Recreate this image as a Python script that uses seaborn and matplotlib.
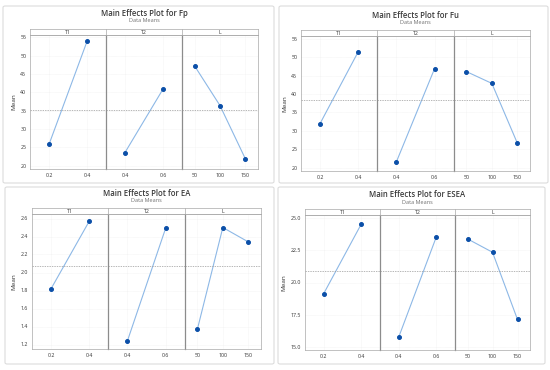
import pandas as pd
import matplotlib.pyplot as plt
from matplotlib.patches import FancyBboxPatch
import seaborn as sns

# factor levels
t1_levels = ["0.2", "0.4"]
t2_levels = ["0.4", "0.6"]
l_levels = ["50", "100", "150"]
factor_names = ["T1", "T2", "L"]

# level means
fp_t1 = [25.8, 53.9]
fp_t2 = [23.6, 40.9]
fp_l = [47.2, 36.4, 21.9]
fp_mean = 35.3

fu_t1 = [32.0, 51.5]
fu_t2 = [21.6, 46.9]
fu_l = [46.1, 42.9, 26.7]
fu_mean = 38.5

ea_t1 = [1.82, 2.57]
ea_t2 = [1.24, 2.49]
ea_l = [1.37, 2.50, 2.34]
ea_mean = 2.07

esea_t1 = [19.15, 24.5]
esea_t2 = [15.8, 23.5]
esea_l = [23.36, 22.33, 17.15]
esea_mean = 20.92

W, H = 550, 370
sns.set_theme(style="white")
plt.rcParams["font.family"] = ["Open Sans", "DejaVu Sans"]

fig = plt.figure(figsize=(W / 100, H / 100), dpi=100)

LINE = "#8db8e6"
DOT = "#0b4fa8"
FRAME = "#a8a8a8"


def fx(px):
    return px / W


def fy(py):
    return 1 - py / H


def draw_panel(name, t1, t2, lv, mean, ylim, yticks, fmt, box):
    bx0, by0, bx1, by1, left, right, s_top, s_bot, bottom, ty = box
    border = FancyBboxPatch((fx(bx0), fy(by1)), fx(bx1 - bx0), (by1 - by0) / H,
                            boxstyle="round,pad=0,rounding_size=0.004",
                            transform=fig.transFigure, fill=False,
                            edgecolor="#dcdcdc", linewidth=0.8)
    fig.patches.append(border)
    cx = fx((left + right) / 2)
    fig.text(cx, fy(ty), f"Main Effects Plot for {name}", ha="center", va="center",
             fontsize=5.6, fontweight="semibold", color="#3a3a3a")
    fig.text(cx, fy(ty + 7), "Data Means", ha="center", va="center",
             fontsize=4.0, color="#707070")

    width = (right - left) / 3
    groups = [(t1_levels, t1), (t2_levels, t2), (l_levels, lv)]
    for i, (levels, vals) in enumerate(groups):
        x0 = left + i * width
        ax = fig.add_axes([fx(x0), fy(bottom), fx(width), (bottom - s_bot) / H])
        df = pd.DataFrame({"level": levels, "mean": vals})
        sns.lineplot(data=df, x="level", y="mean", ax=ax, color=LINE, linewidth=0.8,
                     marker="o", markersize=2.8, markerfacecolor=DOT,
                     markeredgecolor=DOT, sort=False)
        ax.axhline(mean, color="#9a9a9a", linestyle=(0, (2, 1.5)), linewidth=0.5)
        ax.set_xlim(-0.5, len(levels) - 0.5)
        ax.set_ylim(*ylim)
        ax.set_yticks(yticks)
        ax.grid(True, color="#ececec", linewidth=0.4, linestyle=(0, (1, 1)))
        ax.set_xlabel("")
        ax.set_ylabel("")
        ax.tick_params(axis="both", labelsize=3.8, colors="#333333", length=1.2,
                       width=0.4, pad=1.5)
        if i == 0:
            ax.set_yticklabels([fmt.format(v) for v in yticks])
            ax.set_ylabel("Mean", fontsize=4.6, color="#333333", labelpad=3)
        else:
            ax.tick_params(axis="y", left=False, labelleft=False)
        for sp in ax.spines.values():
            sp.set_color(FRAME)
            sp.set_linewidth(0.5)
        if i > 0:
            ax.spines["left"].set_color("#8c8c8c")
            ax.spines["left"].set_linewidth(0.9)

        sax = fig.add_axes([fx(x0), fy(s_bot), fx(width), (s_bot - s_top) / H])
        sax.set_xticks([])
        sax.set_yticks([])
        sax.set_facecolor("white")
        for sp in sax.spines.values():
            sp.set_color(FRAME)
            sp.set_linewidth(0.5)
        sax.text(0.5, 0.45, factor_names[i], ha="center", va="center",
                 fontsize=3.7, color="#333333", transform=sax.transAxes)


# pixel boxes: border x0,y0,x1,y1, axes left/right, strip top/bottom, axes bottom, title y
draw_panel("Fp", fp_t1, fp_t2, fp_l, fp_mean, (19.1, 55.8), [20, 25, 30, 35, 40, 45, 50, 55],
           "{:.0f}", (3, 6, 274, 183, 30, 258, 29, 34.5, 169, 14))
draw_panel("Fu", fu_t1, fu_t2, fu_l, fu_mean, (19.1, 55.9), [20, 25, 30, 35, 40, 45, 50, 55],
           "{:.0f}", (279, 6, 548, 183, 301, 530, 30, 35.5, 171, 15))
draw_panel("EA", ea_t1, ea_t2, ea_l, ea_mean, (1.15, 2.65), [1.2, 1.4, 1.6, 1.8, 2.0, 2.2, 2.4, 2.6],
           "{:.1f}", (5, 187, 274, 364, 32, 261, 208, 214, 349, 193))
draw_panel("ESEA", esea_t1, esea_t2, esea_l, esea_mean, (14.8, 25.2), [15.0, 17.5, 20.0, 22.5, 25.0],
           "{:.1f}", (278, 187, 545, 364, 305, 530, 209, 215, 350, 195))

fig.savefig("out.png", dpi=100, facecolor="white")
